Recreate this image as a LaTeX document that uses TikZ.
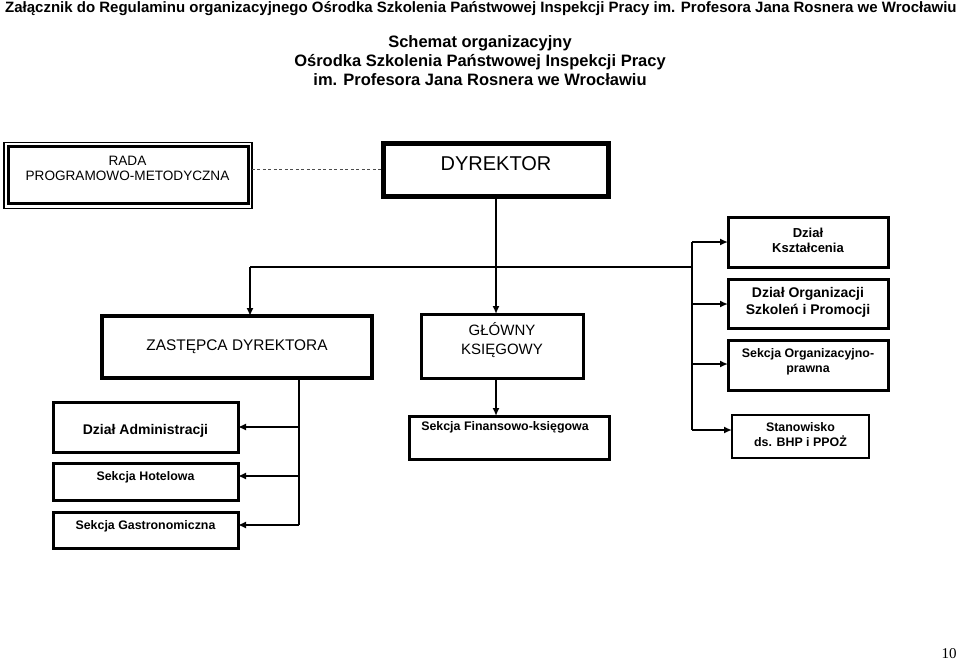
\documentclass[tikz,border=0pt]{standalone}
\usepackage{fontspec}
\setmainfont{Liberation Sans}
\newfontfamily\numfont{Liberation Serif}
\usetikzlibrary{arrows.meta}
\begin{document}
\begin{tikzpicture}[x=1pt,y=-1pt,
  box/.style={draw, rectangle, inner sep=0pt, outer sep=0pt, anchor=north west, line width=3pt},
  txt/.style={inner sep=0pt, align=center},
  conn/.style={line width=1.8pt},
  arr/.style={conn, -{Latex[length=8pt,width=7pt]}},
  bt/.style={txt, font=\fontsize{12.4}{15}\selectfont\bfseries},
  rt/.style={txt, font=\fontsize{15}{19}\selectfont}
]
\useasboundingbox (0,0) rectangle (960,662);
% header
\node[anchor=west, inner sep=0pt, font=\fontsize{15}{18}\selectfont\bfseries] (hdr) at (5,9)
  {Załącznik do Regulaminu organizacyjnego Ośrodka Szkolenia Państwowej Inspekcji Pracy im. Profesora Jana Rosnera we Wrocławiu};
\node[txt, font=\fontsize{16.5}{19}\selectfont\bfseries] (title) at (480,61)
  {Schemat organizacyjny\\Ośrodka Szkolenia Państwowej Inspekcji Pracy\\im. Profesora Jana Rosnera we Wrocławiu};
% RADA (double border)
\node[box, line width=1.4pt, minimum width=248pt, minimum height=66pt] (rada) at (3.8,142.3) {};
\draw[line width=2.7pt] (8.7,146.8) rectangle (248.5,203.5);
\node[txt, font=\fontsize{13.6}{15.5}\selectfont] (radat) at (127.5,168.5) {RADA\\PROGRAMOWO-METODYCZNA};
% DYREKTOR
\node[box, line width=5pt, minimum width=225pt, minimum height=53pt] (dyr) at (383,143) {};
\node[txt, font=\fontsize{20}{24}\selectfont] (dyrt) at (496,164) {DYREKTOR};
% ZASTEPCA
\node[box, line width=4pt, minimum width=270pt, minimum height=62pt] (zast) at (102,316) {};
\node[rt, font=\fontsize{15.4}{19}\selectfont] (zastt) at (237,347) {ZASTĘPCA DYREKTORA};
% GLOWNY
\node[box, minimum width=162pt, minimum height=64pt] (glow) at (421,314) {};
\node[rt] (glowt) at (502,340.5) {GŁÓWNY\\KSIĘGOWY};
% right boxes
\node[box, minimum width=160pt, minimum height=50pt] (kszt) at (728,217) {};
\node[txt, font=\fontsize{13}{15}\selectfont\bfseries] (ksztt) at (808,240.5) {Dział\\Kształcenia};
\node[box, minimum width=160pt, minimum height=49pt] (org) at (728,279) {};
\node[txt, font=\fontsize{14}{17}\selectfont\bfseries] (orgt) at (808,302.5) {Dział Organizacji\\Szkoleń i Promocji};
\node[box, minimum width=160pt, minimum height=50pt] (sorg) at (728,340) {};
\node[txt, font=\fontsize{12.4}{14.5}\selectfont\bfseries] (sorgt) at (808,362) {Sekcja Organizacyjno-\\prawna};
\node[box, line width=2.2pt, minimum width=137pt, minimum height=43pt] (stan) at (732,415) {};
\node[bt] (stant) at (800.5,435) {Stanowisko\\ds. BHP i PPOŻ};
% finance
\node[box, minimum width=200pt, minimum height=43pt] (fin) at (409,416) {};
\node[bt] (fint) at (505,427) {Sekcja Finansowo-księgowa};
% left boxes
\node[box, minimum width=185pt, minimum height=50pt] (adm) at (53,402) {};
\node[txt, font=\fontsize{14}{17}\selectfont\bfseries] (admt) at (145.5,431) {Dział Administracji};
\node[box, minimum width=185pt, minimum height=37pt] (hot) at (53,463) {};
\node[bt] (hott) at (145.5,477) {Sekcja Hotelowa};
\node[box, minimum width=185pt, minimum height=36pt] (gas) at (53,512) {};
\node[bt] (gast) at (145.5,526.5) {Sekcja Gastronomiczna};
% page number
\node[font=\numfont\fontsize{15}{18}\selectfont, inner sep=0pt] (pg) at (949,654) {10};
% connectors
\draw[line width=0.9pt, dash pattern=on 3pt off 2.5pt, black!70] (rada.east |- 0,169) -- (dyr.west |- 0,169);
\coordinate (dx) at (496,0);
\draw[arr] (dyr.south -| dx) -- (glow.north -| dx);
\coordinate (jL) at (250,267);
\coordinate (jR) at (692,267);
\draw[conn] (jL) -- (jR);
\draw[arr] (jL) -- (zast.north -| jL);
\coordinate (bT) at (692,242);
\coordinate (bS) at (692,430);
\draw[conn] (bT) -- (bS);
\draw[arr] (bT) -- (kszt.west |- bT);
\draw[arr] (692,304) coordinate (b2) -- (org.west |- b2);
\draw[arr] (692,364) coordinate (b3) -- (sorg.west |- b3);
\draw[arr] (bS) -- (stan.west |- bS);
\draw[arr] (glow.south -| dx) -- (fin.north -| dx);
\coordinate (lT) at (299,378);
\coordinate (lB) at (299,525);
\draw[conn, line width=1.5pt] (zast.south -| lT) -- (lB);
\draw[arr, line width=1.5pt] (299,427) coordinate (l1) -- (adm.east |- l1);
\draw[arr, line width=1.5pt] (299,476) coordinate (l2) -- (hot.east |- l2);
\draw[arr, line width=1.5pt] (lB) -- (gas.east |- lB);
\end{tikzpicture}
\end{document}
